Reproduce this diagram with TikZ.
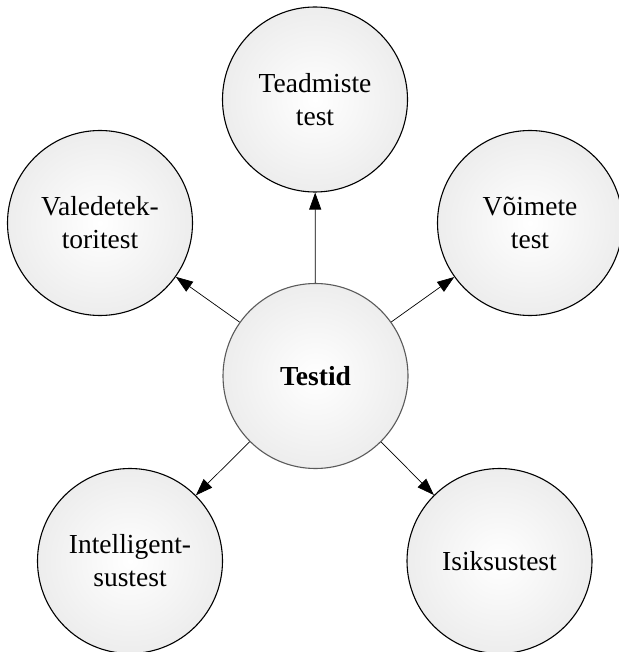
\documentclass[tikz,border=0pt]{standalone}
\usepackage{fontspec}
\setmainfont{Liberation Serif}
\usetikzlibrary{arrows.meta, positioning}
\definecolor{cRim}{RGB}{90,90,90}
\definecolor{cBall}{RGB}{219,219,219}
\pgfdeclareradialshading{ballshade}{\pgfpoint{0bp}{0bp}}{color(0bp)=(white); color(50bp)=(cBall)}
\tikzset{
	topic/.style={circle, draw=black, line width=1.1pt, minimum size=185pt, inner sep=0pt, align=center, shading=ballshade, font=\fontsize{27.5}{33}\selectfont},
	hub/.style  ={topic, draw=cRim, font=\fontsize{27.5}{33}\selectfont\bfseries},
	link/.style ={-{Triangle[length=17pt, width=12pt]}, line width=0.7pt},
}
\begin{document}
\begin{tikzpicture}[x=1pt, y=-1pt]
	\useasboundingbox (0,0) rectangle (618,652);
	\node[hub] (testid) at (315.5,376) {Testid};
	\node[topic] (teadmised) at (315,99.5) {Teadmiste\\test};
	\node[topic] (vale) at (100,223) {Valedetek-\\toritest};
	\node[topic] (voime) at (530,223) {Võimete\\test};
	\node[topic] (intell) at (130,561) {Intelligent-\\sustest};
	\node[topic] (isiksus) at (499.5,561) {Isiksustest};
	\foreach \t in {teadmised, vale, voime, intell, isiksus} {
		\draw[link] (testid) -- (\t);
	}
\end{tikzpicture}
\end{document}
